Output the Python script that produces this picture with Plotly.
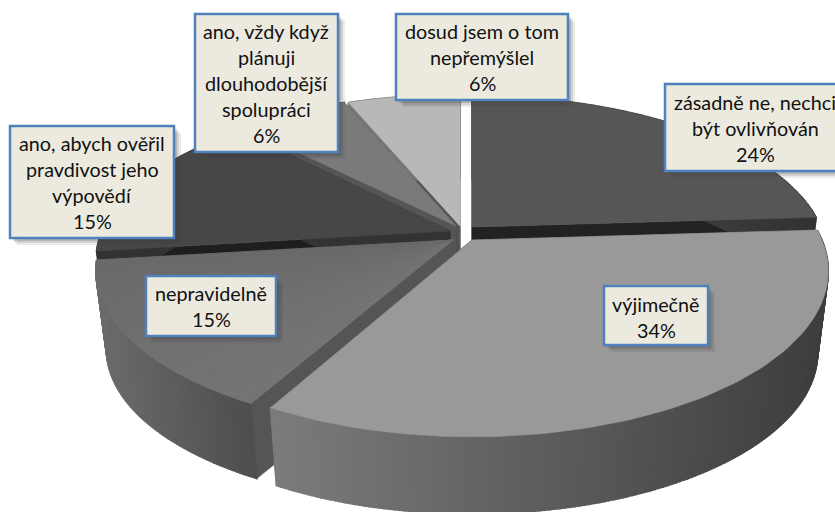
import numpy as np
import plotly.graph_objects as go

# --- data ---
categories = ["zásadně ne, nechci být ovlivňován", "výjimečně", "nepravidelně",
              "ano, abych ověřil pravdivost jeho výpovědí",
              "ano, vždy když plánuji dlouhodobější spolupráci",
              "dosud jsem o tom nepřemýšlel"]
values = [24, 34, 15, 15, 6, 6]
label_lines = [["zásadně ne, nechci", "být ovlivňován", "24%"],
               ["výjimečně", "34%"],
               ["nepravidelně", "15%"],
               ["ano, abych ověřil", "pravdivost jeho", "výpovědí", "15%"],
               ["ano, vždy když", "plánuji", "dlouhodobější", "spolupráci", "6%"],
               ["dosud jsem o tom", "nepřemýšlel", "6%"]]

# --- styling / geometry of the 3-D look ---
W, H_PX = 835, 512
apex = [(472, 227), (472, 240), (453, 240), (450, 231), (456, 226), (460, 226)]
radius_x = [349, 350, 351, 348, 356, 356]
radius_y = [156, 160, 156, 156, 156, 156]
depth = [80, 83, 80, 80, 80, 80]
K, SHRINK = 0.187, 0.97
top_left = ["#565656", "#999999", "#6a6a6a", "#474747", "#7a7a7a", "#b8b8b8"]
top_right = ["#565656", "#999999", "#757575", "#474747", "#7a7a7a", "#b8b8b8"]
wall_start = ["#222222", "#555555", "#555555", "#1e1e1e", "#333333", "#555555"]
wall_end = ["#222222", "#222222", "#555555", "#333333", "#555555", "#555555"]
outer_left = ["#555555", "#7c7c7c", "#6c6c6c", "#333333", "#555555", "#777777"]
outer_right = ["#333333", "#3e3e3e", "#4e4e4e", "#333333", "#555555", "#777777"]
draw_order = [5, 4, 3, 0, 2, 1]
boxes = [(665, 84, 850, 171), (604, 286, 708, 345), (146, 276, 276, 336),
         (10, 126, 174, 238), (195, 14, 338, 152), (396, 14, 568, 100)]
label_cx = [755, 656, 211, 92, 266, 482]
label_y0 = [102, 304, 293, 143, 31, 31]
LINE_STEP = 26
BORDER = "#4F81BD"
BOX_BG = "#ECEADF"
FONT = "Lato, Carlito, sans-serif"


def project(theta, i):
    X, Y = np.sin(theta), np.cos(theta)
    w = 1 / (1 + K * Y)
    return apex[i][0] + radius_x[i] * X * w, apex[i][1] - radius_y[i] * Y * w


def lower(px, py, i):
    ax, ay = apex[i]
    return ax + (px - ax) * SHRINK, ay + (py - ay) * SHRINK + depth[i]


def hex2rgb(c):
    return np.array([int(c[j:j + 2], 16) for j in (1, 3, 5)], float)


def mix(a, b, t):
    v = hex2rgb(a) * (1 - t) + hex2rgb(b) * t
    return "rgb(%d,%d,%d)" % tuple(v)


fig = go.Figure()


def poly(xs, ys, color, name, lw=0.6):
    fig.add_trace(go.Scatter(x=list(xs), y=list(ys), mode="lines", fill="toself",
                             fillcolor=color, line=dict(color=color, width=lw),
                             hoverinfo="text", text=name, showlegend=False))


edges = np.cumsum([0] + values) / sum(values) * 2 * np.pi
for i in draw_order:
    t0, t1 = edges[i], edges[i + 1]
    ax, ay = apex[i]
    bx, by = lower(ax, ay, i)
    name = categories[i]
    # radial walls
    for th, col in ((t0, wall_start[i]), (t1, wall_end[i])):
        ex, ey = project(th, i)
        fx, fy = lower(ex, ey, i)
        poly([ax, ex, fx, bx, ax], [ay, ey, fy, by, ay], col, name)
    # outer wall in narrow bands so that it shades from left to right
    n = max(int(values[i] * 5), 8)
    ths = np.linspace(t0, t1, n + 1)
    px, py = project(ths, i)
    qx, qy = lower(px, py, i)
    xmin, xmax = px.min(), px.max()
    for j in range(n):
        tt = ((px[j] + px[j + 1]) / 2 - xmin) / (xmax - xmin)
        poly([px[j], px[j + 1], qx[j + 1], qx[j], px[j]],
             [py[j], py[j + 1], qy[j + 1], qy[j], py[j]],
             mix(outer_left[i], outer_right[i], tt), name, lw=1.5)
    # top face
    if top_left[i] == top_right[i]:
        ths = np.linspace(t0, t1, 80)
        px, py = project(ths, i)
        poly([ax, *px, ax], [ay, *py, ay], top_left[i], name)
    else:
        m = 24
        ths = np.linspace(t0, t1, m + 1)
        px, py = project(ths, i)
        for j in range(m):
            # t0 end lies to the right for the left-hand slice
            poly([ax, px[j], px[j + 1], ax], [ay, py[j], py[j + 1], ay],
                 mix(top_right[i], top_left[i], (j + 0.5) / m), name, lw=0.8)

# labels
for i, (x0, y0, x1, y1) in enumerate(boxes):
    for off, op in ((7, 0.10), (5, 0.15), (3, 0.2)):
        fig.add_shape(type="rect", x0=x0 + off, x1=x1 + off, y0=y0 + off, y1=y1 + off,
                      fillcolor="rgba(60,60,60,%g)" % op, line_width=0, layer="above")
    fig.add_shape(type="rect", x0=x0, x1=x1, y0=y0, y1=y1, fillcolor=BOX_BG,
                  line=dict(color=BORDER, width=2.5), layer="above")
    for k, line in enumerate(label_lines[i]):
        fig.add_annotation(x=label_cx[i], y=label_y0[i] + k * LINE_STEP, text=line,
                           showarrow=False, xanchor="center", yanchor="middle",
                           font=dict(family=FONT, size=19.8, color="#111111"))

fig.update_xaxes(range=[0, W], visible=False, fixedrange=True)
fig.update_yaxes(range=[H_PX, 0], visible=False, fixedrange=True)
fig.update_layout(width=W, height=H_PX, margin=dict(l=0, r=0, t=0, b=0),
                  paper_bgcolor="white", plot_bgcolor="white", showlegend=False)
fig.write_html("out.html", config=dict(displayModeBar=False),
               post_script="document.body.style.margin='0';document.documentElement.style.overflow='hidden';")
